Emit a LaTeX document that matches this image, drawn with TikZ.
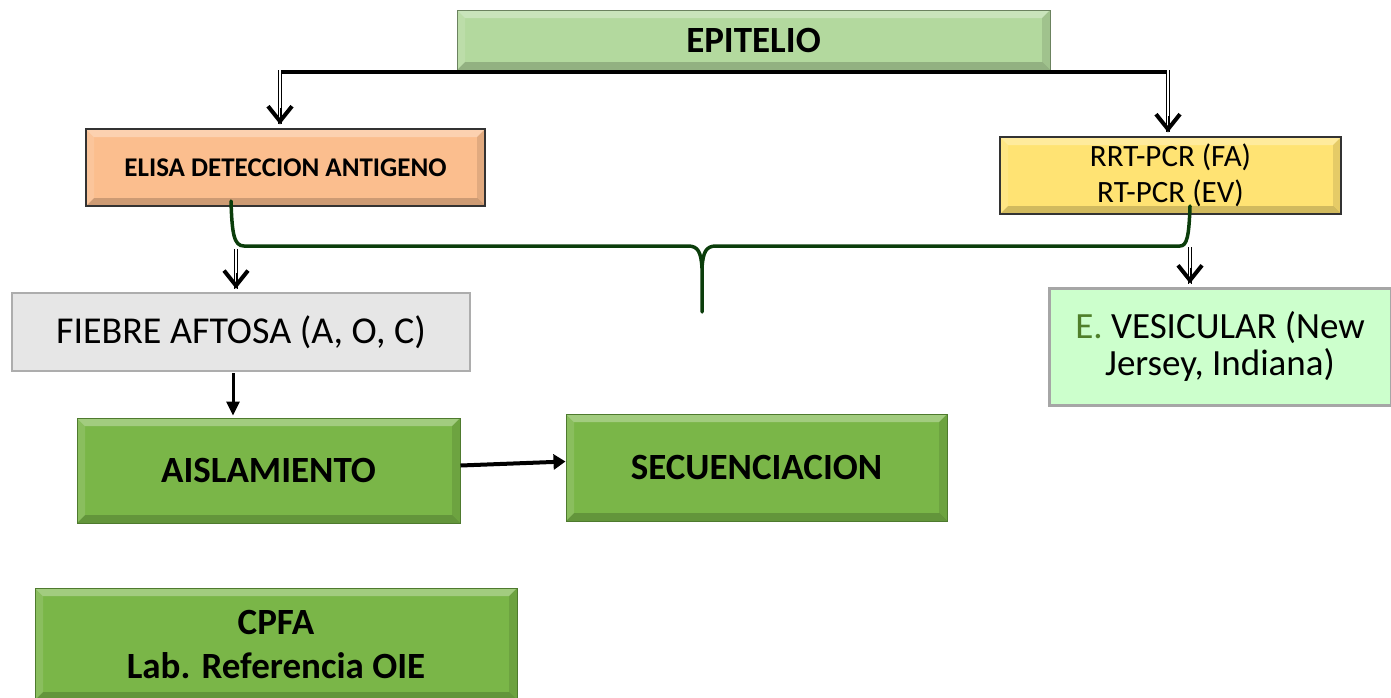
\documentclass[tikz,border=0pt]{standalone}
\usepackage{fontspec}
\setmainfont{Carlito}
\usetikzlibrary{arrows.meta,calc}
\definecolor{epig}{HTML}{B3D99E}
\definecolor{elisac}{HTML}{FBBE8E}
\definecolor{rrtc}{HTML}{FFE373}
\definecolor{fiebc}{HTML}{E6E6E6}
\definecolor{vesc}{HTML}{CCFFCC}
\definecolor{grn}{HTML}{7AB648}
\definecolor{grnd}{HTML}{4E7A2E}
\definecolor{bracec}{HTML}{0B3D0B}
\definecolor{edot}{HTML}{4F7F2A}
\def\bw{8pt}
\tikzset{
  bevel/.style={path picture={
    \fill[white,opacity=.30] (path picture bounding box.north west) -- (path picture bounding box.north east) -- ([xshift=-\bw,yshift=-\bw]path picture bounding box.north east) -- ([xshift=\bw,yshift=-\bw]path picture bounding box.north west) -- cycle;
    \fill[black,opacity=.18] (path picture bounding box.south west) -- (path picture bounding box.south east) -- ([xshift=-\bw,yshift=\bw]path picture bounding box.south east) -- ([xshift=\bw,yshift=\bw]path picture bounding box.south west) -- cycle;
    \fill[black,opacity=.10] (path picture bounding box.north east) -- (path picture bounding box.south east) -- ([xshift=-\bw,yshift=\bw]path picture bounding box.south east) -- ([xshift=-\bw,yshift=-\bw]path picture bounding box.north east) -- cycle;
    \fill[white,opacity=.12] (path picture bounding box.north west) -- (path picture bounding box.south west) -- ([xshift=\bw,yshift=\bw]path picture bounding box.south west) -- ([xshift=\bw,yshift=-\bw]path picture bounding box.north west) -- cycle;
  }},
  box/.style={rectangle, inner sep=0pt, align=center},
  epibox/.style={box, bevel, fill=epig, draw=epig!60!black, line width=1pt, font=\fontsize{37}{40}\selectfont\bfseries},
  elisabox/.style={box, bevel, fill=elisac, draw=black!80, line width=1.2pt, font=\fontsize{27}{30}\selectfont\bfseries},
  rrtbox/.style={box, bevel, fill=rrtc, draw=black!80, line width=1.2pt, font=\fontsize{31}{36}\selectfont},
  fiebbox/.style={box, fill=fiebc, draw=black!32, line width=2.5pt, font=\fontsize{38}{42}\selectfont},
  vesbox/.style={box, fill=vesc, draw=black!35, line width=3pt, font=\fontsize{37}{37}\selectfont},
  grnbox/.style={box, bevel, fill=grn, draw=grnd, line width=1pt, font=\fontsize{37}{44}\selectfont\bfseries},
  blk/.style={draw=black, line width=4pt},
  dshaft/.style={draw=black, line width=0.9pt, double=white, double distance=2.6pt},
  barb/.style={draw=black, line width=0.2pt, -{Straight Barb[length=15pt,width=24pt,line width=4pt]}},
  solidarrow/.style={draw=black, line width=3pt, -{Triangle[length=14pt,width=13pt]}},
  thickarrow/.style={draw=black, line width=4pt, -{Triangle[length=12pt,width=15pt]}},
  bracestyle/.style={draw=bracec, line width=3.5pt, line cap=round, line join=round},
}
\begin{document}
\begin{tikzpicture}[x=1pt,y=-1pt]
\useasboundingbox (0,0) rectangle (1391,697);

\node[epibox, minimum width=593pt, minimum height=60pt] (epi) at (753.5,40) {EPITELIO};
\node[elisabox, minimum width=399pt, minimum height=77pt] (elisa) at (285.5,167.5) {ELISA DETECCION ANTIGENO};
\node[rrtbox, minimum width=341pt, minimum height=77pt] (rrt) at (1170.5,175.5) {RRT-PCR (FA)\\RT-PCR (EV)};
\node[fiebbox, minimum width=458pt, minimum height=78pt] (fieb) at (241,332) {FIEBRE AFTOSA (A, O, C)};
\node[vesbox, minimum width=342pt, minimum height=117pt] (ves) at (1220,346.5) {\textcolor{edot}{E.} VESICULAR (New\\[0pt]Jersey, Indiana)};
\node[grnbox, minimum width=383pt, minimum height=105pt] (aisl) at (268.5,470.5) {AISLAMIENTO};
\node[grnbox, minimum width=381pt, minimum height=107pt] (sec) at (756.5,467.5) {SECUENCIACION};
\node[grnbox, minimum width=482pt, minimum height=112pt] (cpfa) at (276,644) {CPFA\\Lab. Referencia OIE};

% top split
\coordinate (hl) at (280,72);
\coordinate (hr) at (1168,72);
\coordinate (tl) at ($(hl |- elisa.north)+(0,-4)$);
\coordinate (tr) at ($(hr |- rrt.north)+(0,-4)$);
\draw[blk] ([xshift=-1pt]hl) -- ([xshift=1pt]hr);
\draw[dshaft] ([yshift=2pt]hl) -- (tl);
\draw[dshaft] ([yshift=2pt]hr) -- (tr);
\draw[barb] ([yshift=16pt]tl) -- (tl);
\draw[barb] ([yshift=16pt]tr) -- (tr);

% brace
\coordinate (bl) at (231,201);
\coordinate (br) at (1190,206);
\coordinate (bm) at (702,312);
\draw[bracestyle] (bl) .. controls (232,234) and (234,246) .. (244,246) -- (688,246)
   .. controls (698,246) and (701,252) .. (702,268) -- (bm);
\draw[bracestyle] (702,268) .. controls (703,252) and (706,246) .. (716,246) -- (1180,246)
   .. controls (1187,246) and (1189,236) .. (br);

% arrows from brace
\coordinate (sl) at (236,249);
\coordinate (sr) at (1190,247);
\coordinate (fl) at ($(sl |- fieb.north)+(0,-3)$);
\coordinate (fr) at ($(sr |- ves.north)+(0,-3)$);
\draw[dshaft] (sl) -- (fl);
\draw[dshaft] (sr) -- (fr);
\draw[barb] ([yshift=16pt]fl) -- (fl);
\draw[barb] ([yshift=16pt]fr) -- (fr);

% fiebre -> aislamiento
\coordinate (fa) at (233,373);
\draw[solidarrow] (fa) -- ($(fa |- aisl.north)+(0,-2)$);

% aislamiento -> secuenciacion
\draw[thickarrow] ($(aisl.east)+(0,-5)$) -- ($(sec.west)+(0,-6)$);
\end{tikzpicture}
\end{document}
